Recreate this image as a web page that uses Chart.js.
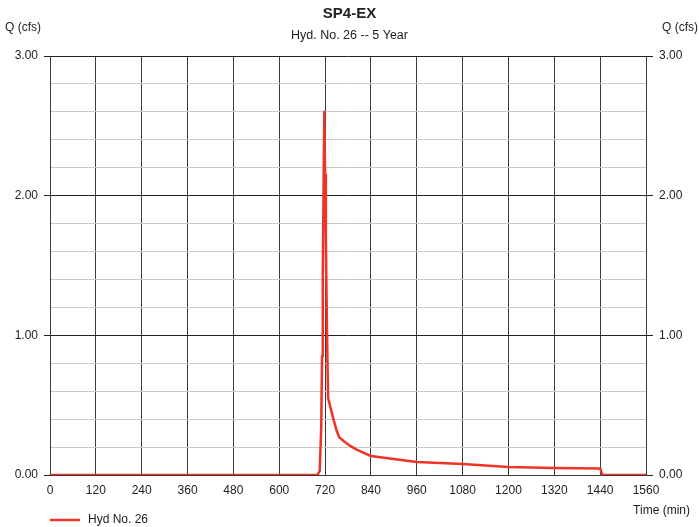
<!DOCTYPE html>
<html>
<head>
<meta charset="utf-8">
<script src="https://cdn.jsdelivr.net/npm/chart.js@4/dist/chart.umd.min.js"></script>
<style>
	html, body { margin: 0; padding: 0; background: #fff; }
	#wrap { width: 699px; height: 527px; }
</style>
</head>
<body>
<div id="wrap"><canvas id="chartHyd" width="699" height="527"></canvas></div>
<script>
// hydrograph (time in min, flow in cfs)
var times = [0, 700, 706, 710, 712, 714, 716, 718, 720, 722, 724, 726, 728, 740, 750, 757, 770, 785, 800, 820, 840, 900, 960, 1020, 1080, 1140, 1200, 1260, 1320, 1380, 1440, 1446, 1560];
var flows = [0, 0, 0.03, 0.35, 0.85, 1.45, 2.05, 2.60, 2.15, 1.70, 1.25, 0.85, 0.55, 0.42, 0.32, 0.27, 0.24, 0.21, 0.185, 0.16, 0.136, 0.115, 0.093, 0.086, 0.079, 0.068, 0.058, 0.054, 0.051, 0.049, 0.047, 0, 0];
var xTicks = [0, 120, 240, 360, 480, 600, 720, 840, 960, 1080, 1200, 1320, 1440, 1560];
var yTicks = [0, 1, 2, 3];

var chartTitle = 'SP4-EX';
var chartSub = 'Hyd. No. 26 -- 5 Year';
var seriesName = 'Hyd No. 26';

(function(w){
	Chart.defaults.font.family = "'Liberation Sans', Arial, sans-serif";
	Chart.defaults.color = '#222';

	var isMajor = (v)=> Math.abs(v - Math.round(v)) < 1e-6;

	// side labels + legend drawn by hand
	var extras = {
		id: 'extras',
		afterDraw: (c)=>{
			var ctx = c.ctx, area = c.chartArea;
			ctx.save();
			ctx.fillStyle = '#222';
			ctx.font = "12px 'Liberation Sans', Arial, sans-serif";
			ctx.textBaseline = 'middle';
			ctx.textAlign = 'left';
			ctx.fillText('Q (cfs)', 5, 28);
			ctx.textAlign = 'right';
			ctx.fillText('Q (cfs)', 698, 28);
			ctx.fillText('Time (min)', 690, 511);
			// legend
			var ds = c.data.datasets[0];
			ctx.strokeStyle = ds.borderColor;
			ctx.lineWidth = 2.5;
			ctx.beginPath();
			ctx.moveTo(area.left, 520);
			ctx.lineTo(area.left + 30, 520);
			ctx.stroke();
			ctx.textAlign = 'left';
			ctx.fillText(ds.label, area.left + 38, 520);
			ctx.restore();
		}
	};

	var yGrid = {
		color: (ctx)=> isMajor(ctx.tick.value) ? '#222' : '#c8c8c8',
		tickColor: (ctx)=> isMajor(ctx.tick.value) ? '#222' : 'rgba(0,0,0,0)',
		tickLength: 6
	};

	var Hyd = document.getElementById('chartHyd').getContext('2d');
	var chart = new Chart(Hyd, {
		type: 'line',
		data: {
			datasets: [{
				label: seriesName,
				data: times.map((t, i)=>({x: t, y: flows[i]})),
				borderColor: '#f03326',
				borderWidth: 2.5,
				borderJoinStyle: 'round',
				borderCapStyle: 'round',
				pointRadius: 0,
				tension: 0,
				fill: false
			}]
		},
		options: {
			responsive: false,
			animation: false,
			layout: { padding: 0 },
			plugins: {
				legend: { display: false },
				tooltip: { enabled: false },
				title: {
					display: true,
					text: chartTitle,
					color: '#222',
					font: { size: 15, weight: 'bold' },
					padding: { top: 5, bottom: 3 }
				},
				subtitle: {
					display: true,
					text: chartSub,
					color: '#222',
					font: { size: 12.5 },
					padding: { top: 2, bottom: 13 }
				}
			},
			scales: {
				x: {
					type: 'linear',
					min: 0,
					max: 1560,
					afterBuildTicks: (s)=>{ s.ticks = xTicks.map(v=>({value: v})); },
					afterFit: (s)=>{ s.height = 52; },
					ticks: {
						autoSkip: false,
						maxRotation: 0,
						padding: 8,
						font: { size: 12 },
						callback: (v)=> String(v)
					},
					grid: { color: '#3a3a3a', drawTicks: false },
					border: { color: '#3a3a3a' }
				},
				y: {
					position: 'left',
					min: 0,
					max: 3,
					afterFit: (s)=>{ s.width = 50; },
					ticks: {
						stepSize: 0.2,
						padding: 6,
						font: { size: 12 },
						callback: (v)=> isMajor(v) && yTicks.indexOf(Math.round(v)) > -1 ? Number(v).toFixed(2) : ''
					},
					grid: yGrid,
					border: { color: '#3a3a3a' }
				},
				y2: {
					position: 'right',
					min: 0,
					max: 3,
					afterFit: (s)=>{ s.width = 53; },
					ticks: {
						stepSize: 0.2,
						padding: 6,
						font: { size: 12 },
						callback: (v)=> isMajor(v) && yTicks.indexOf(Math.round(v)) > -1 ? Number(v).toFixed(2) : ''
					},
					grid: {
						drawOnChartArea: false,
						tickColor: yGrid.tickColor,
						tickLength: 7
					},
					border: { color: '#3a3a3a' }
				}
			}
		},
		plugins: [extras]
	});
})(window)
</script>
</body>
</html>
